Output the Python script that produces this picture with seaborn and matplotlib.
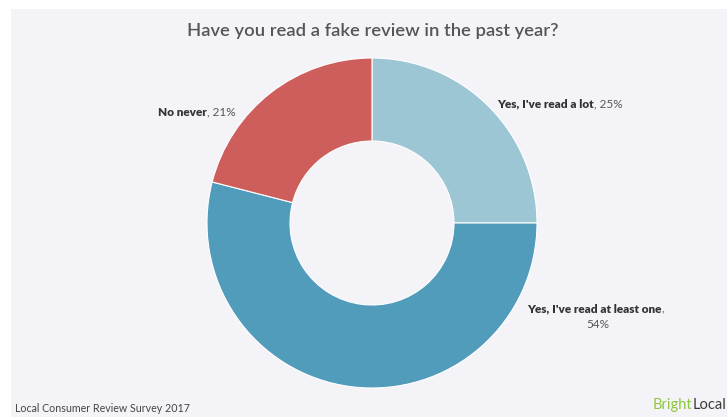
import matplotlib.pyplot as plt
import seaborn as sns
from matplotlib.patches import Rectangle

# === DATA ===
labels = ["Yes, I've read a lot", "Yes, I've read at least one", "No never"]
shares = [25, 54, 21]
colors = ["#9dc6d4", "#529cbb", "#cd5e5c"]

title = "Have you read a fake review in the past year?"
source = "Local Consumer Review Survey 2017"

# === STYLE ===
sns.set_theme(style="white")
plt.rcParams["font.family"] = ["Lato", "DejaVu Sans"]

W, H = 727, 417
fig = plt.figure(figsize=(W / 100, H / 100), dpi=100, facecolor="white")
ax = fig.add_axes([0, 0, 1, 1])

# panel background
ax.add_patch(Rectangle((11, 0), W - 11, H - 9, facecolor="#f4f4f8", edgecolor="none", zorder=0))

# donut, clockwise from 12 o'clock
ax.pie(shares, colors=colors, startangle=90, counterclock=False,
       center=(372, H - 223), radius=165,
       wedgeprops=dict(width=83, edgecolor="white", linewidth=0.8), frame=True)
ax.set_xlim(0, W)
ax.set_ylim(0, H)
ax.set_aspect("equal")
ax.axis("off")

ax.text(373, H - 31, title, ha="center", va="center", fontsize=13.2,
        color="#555555", fontweight="semibold")

label_kw = dict(fontsize=8.5, color="#333333", fontweight="heavy")
pct_kw = dict(fontsize=8.5, color="#555555")

# Yes, a lot
t = ax.text(497, H - 104, labels[0], ha="left", va="center", **label_kw)
ax.annotate(f", {shares[0]}%", xy=(1, 0), xycoords=t, va="bottom", ha="left", **pct_kw)

# No never
t = ax.text(158, H - 112, labels[2], ha="left", va="center", **label_kw)
ax.annotate(f", {shares[2]}%", xy=(1, 0), xycoords=t, va="bottom", ha="left", **pct_kw)

# Yes, at least one
t = ax.text(527, H - 309, labels[1], ha="left", va="center", **label_kw)
ax.annotate(",", xy=(1, 0), xycoords=t, va="bottom", ha="left", **pct_kw)
ax.text(598, H - 325, f"{shares[1]}%", ha="center", va="center", **pct_kw)

# footer
ax.text(15, H - 408, source, ha="left", va="center", fontsize=7.7, color="#444444")
logo_kw = dict(fontsize=10.5)
t = ax.text(653, H - 405, "Bright", ha="left", va="center", color="#8dc63f", **logo_kw)
ax.annotate("Local", xy=(1, 0), xycoords=t, va="bottom", ha="left", color="#3a3a3a", **logo_kw)

fig.savefig("out.png", dpi=100, facecolor="white")
